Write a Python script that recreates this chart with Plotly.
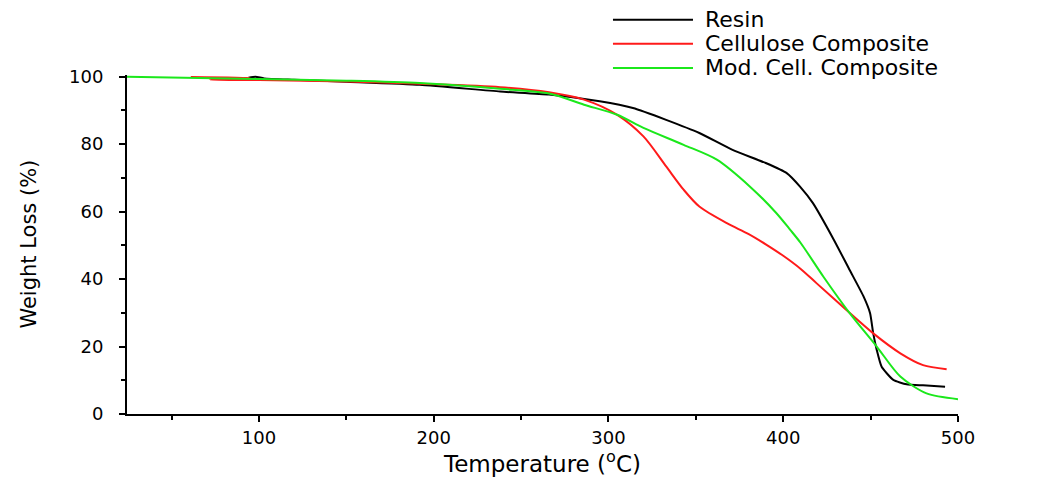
import plotly.graph_objects as go

# ---- data (Temperature °C, Weight %) ----
resin_T = [94, 98, 103, 120, 150, 192, 238, 266, 295, 314, 333, 352, 371, 390, 402,
           409.6, 417, 429, 438, 446, 449.7, 451.5, 453.5, 456.3, 463, 470.6, 480, 492.6]
resin_W = [99.7, 100.0, 99.5, 99.1, 98.5, 97.6, 95.6, 94.7, 92.7, 90.7, 87.2, 83.3, 78.3, 74.4, 71.4,
           67.4, 62.5, 51.6, 42.7, 34.8, 29.9, 23.9, 19.0, 14.0, 10.1, 8.8, 8.5, 8.1]

cell_T = [61, 95, 72, 100, 150, 192, 238, 266, 286, 305, 320, 333, 343, 352, 368,
          380, 390, 400, 410, 419, 436, 451.5, 467, 480, 493.5]
cell_W = [99.9, 99.6, 99.1, 99.0, 98.6, 97.9, 96.9, 95.4, 93.2, 88.7, 82.3, 73.4, 66.5, 61.5, 56.5,
          53.4, 50.3, 46.9, 43.0, 38.8, 30.9, 23.9, 18.0, 14.5, 13.3]

mod_T = [24.5, 100, 150, 192, 238, 266, 286, 305, 320, 343, 362, 381, 396, 404, 410,
         423, 438, 453.5, 467, 482, 500]
mod_W = [100, 99.3, 98.8, 98.1, 96.4, 95.0, 91.7, 88.7, 84.8, 79.8, 75.4, 67.4, 59.6, 54.6, 50.7,
         40.7, 29.9, 20.0, 11.1, 6.1, 4.4]

series_names = ["Resin", "Cellulose Composite", "Mod. Cell. Composite"]
series_colors = ["#000000", "#FF1A1A", "#1BE81B"]

x_ticks = [100, 200, 300, 400, 500]
y_ticks = [0, 20, 40, 60, 80, 100]

FONT = "DejaVu Sans, Liberation Sans, Arial, sans-serif"

fig = go.Figure()
for T, W, name, col, sm in [(resin_T, resin_W, series_names[0], series_colors[0], 0.5),
                            (cell_T, cell_W, series_names[1], series_colors[1], 0.8),
                            (mod_T, mod_W, series_names[2], series_colors[2], 0.8)]:
    fig.add_trace(go.Scatter(x=T, y=W, mode="lines", name=name,
                             line=dict(color=col, width=2, shape="spline", smoothing=sm),
                             showlegend=False))

# manual legend (long line samples like the original)
leg_y = [1.163, 1.092, 1.021]
for name, col, yy in zip(series_names, series_colors, leg_y):
    fig.add_shape(type="line", xref="paper", yref="paper", x0=0.5848, x1=0.6811, y0=yy, y1=yy,
                  line=dict(color=col, width=2))
    fig.add_annotation(xref="paper", yref="paper", x=0.6931, y=yy, text=name, showarrow=False,
                       xanchor="left", yanchor="middle", font=dict(family=FONT, size=22, color="#000"))

# y axis title
fig.add_annotation(xref="paper", yref="paper", x=-0.119, y=0.5, text="Weight Loss (%)",
                   textangle=-90, showarrow=False, xanchor="center", yanchor="middle",
                   font=dict(family=FONT, size=21, color="#000"))

fig.update_layout(
    width=1042, height=477,
    margin=dict(l=127, r=84, t=75, b=63, autoexpand=False),
    paper_bgcolor="white", plot_bgcolor="white",
    xaxis=dict(range=[24.5, 500], tickvals=x_ticks, showgrid=False, zeroline=False,
               automargin=False,
               showline=True, linecolor="black", linewidth=2,
               ticks="outside", ticklen=6, tickwidth=2, tickcolor="black",
               minor=dict(ticks="outside", ticklen=4, tickwidth=2, tickcolor="black",
                          tick0=50, dtick=100),
               tickfont=dict(family=FONT, size=18, color="#000"),
               title=dict(text="Temperature (<sup>o</sup>C)", standoff=10,
                          font=dict(family=FONT, size=23, color="#000"))),
    yaxis=dict(range=[0, 100.5], tickvals=y_ticks, showgrid=False, zeroline=False,
               automargin=False,
               showline=True, linecolor="black", linewidth=2,
               ticks="outside", ticklen=6, tickwidth=2, tickcolor="black",
               minor=dict(ticks="outside", ticklen=4, tickwidth=2, tickcolor="black",
                          tick0=10, dtick=20),
               ticklabelstandoff=12,
               tickfont=dict(family=FONT, size=18, color="#000")),
)

fig.write_html("out.html")
